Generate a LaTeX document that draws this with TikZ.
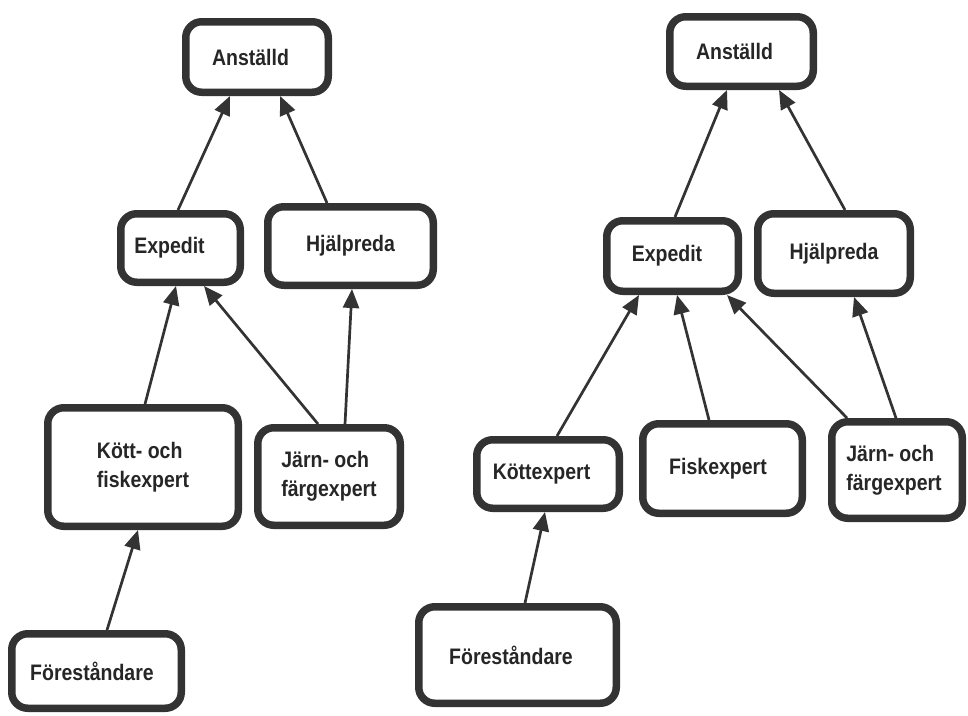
\documentclass[tikz,border=0pt]{standalone}
\usepackage{fontspec}
\usepackage{graphicx}
\setmainfont{Liberation Sans}
\usetikzlibrary{arrows.meta}
\definecolor{ink}{HTML}{333333}
\definecolor{txt}{HTML}{262626}
% label text: bold, slightly tall; optional first argument nudges it sideways
\newcommand{\lbl}[2][0]{\hspace*{#1pt}\scalebox{1}[1.15]{#2}}
\newcommand{\two}[3][0]{\hspace*{#1pt}\scalebox{1}[1.15]{\begin{tabular}{@{}l@{}}#2\\#3\end{tabular}}}
\begin{document}
\begin{tikzpicture}[x=1pt,y=-1pt,
  box/.style={draw=ink, line width=7.5pt, rounded corners=16pt, fill=white,
    text=txt, font=\fontsize{19.5}{25}\selectfont\bfseries, inner sep=0pt},
  isa/.style={draw=ink, line width=2.7pt, -{Triangle[length=19pt,width=16pt]}}]
\useasboundingbox (0,0) rectangle (968,715);
\fill[white] (0,0) rectangle (968,715);

% ---- first hierarchy ----
\node[box, minimum width=142.5pt, minimum height=70.5pt]  (A1) at (257,57)    {\lbl[-13]{Anställd}};
\node[box, minimum width=119.5pt, minimum height=68.5pt]  (E1) at (180.5,248) {\lbl[-22]{Expedit}};
\node[box, minimum width=165.5pt, minimum height=78.5pt]  (H1) at (350.5,246) {\lbl{Hjälpreda}};
\node[box, minimum width=190.5pt, minimum height=118.5pt] (K1) at (143,467)   {\two{Kött- och}{fiskexpert}};
\node[box, minimum width=142.5pt, minimum height=97.5pt]  (J1) at (329,476.5) {\two{Järn- och}{färgexpert}};
\node[box, minimum width=169.5pt, minimum height=74.5pt]  (F1) at (96.5,671)  {\lbl[-9]{Föreståndare}};

\draw[isa] ([xshift=-2.5pt]E1.north) -- ([xshift=-27pt]A1.south);
\draw[isa] ([xshift=-23.5pt]H1.north) -- ([xshift=23pt]A1.south);
\draw[isa] ([xshift=2pt]K1.north) -- ([xshift=-4.5pt]E1.south);
\draw[isa] ([xshift=-11pt]J1.north) -- ([xshift=23.5pt]E1.south);
\draw[isa] ([xshift=16pt]J1.north) -- ([xshift=1.5pt]H1.south);
\draw[isa] ([xshift=10.5pt]F1.north) -- ([xshift=-5pt]K1.south);

% ---- second hierarchy ----
\node[box, minimum width=143.5pt, minimum height=69.5pt]  (A2) at (741.5,51.5) {\lbl[-14]{Anställd}};
\node[box, minimum width=131.5pt, minimum height=70.5pt]  (E2) at (672.5,256)  {\lbl[-11]{Expedit}};
\node[box, minimum width=152.5pt, minimum height=79.5pt]  (H2) at (834,253.5)  {\lbl{Hjälpreda}};
\node[box, minimum width=142.5pt, minimum height=68.5pt]  (K2) at (548,474)    {\lbl[-13]{Köttexpert}};
\node[box, minimum width=159.5pt, minimum height=89.5pt]  (Fi2) at (722.5,468.5) {\lbl[-9]{Fiskexpert}};
\node[box, minimum width=130.5pt, minimum height=96.5pt]  (J2) at (897,470)    {\two[-6]{Järn- och}{färgexpert}};
\node[box, minimum width=197.5pt, minimum height=96.5pt]  (F2) at (517.5,655)  {\lbl[-13]{Föreståndare}};

\draw[isa] ([xshift=2.5pt]E2.north) -- ([xshift=-14.5pt]A2.south);
\draw[isa] ([xshift=11pt]H2.north) -- ([xshift=37.5pt]A2.south);
\draw[isa] ([xshift=9pt]K2.north) -- ([xshift=-33.5pt]E2.south);
\draw[isa] ([xshift=-13.5pt]Fi2.north) -- ([xshift=4.5pt]E2.south);
\draw[isa] ([xshift=-50pt]J2.north) -- ([xshift=54.5pt]E2.south);
\draw[isa] ([xshift=-1pt]J2.north) -- ([xshift=20pt]H2.south);
\draw[isa] ([xshift=7.5pt]F2.north) -- ([xshift=-3pt]K2.south);
\end{tikzpicture}
\end{document}
